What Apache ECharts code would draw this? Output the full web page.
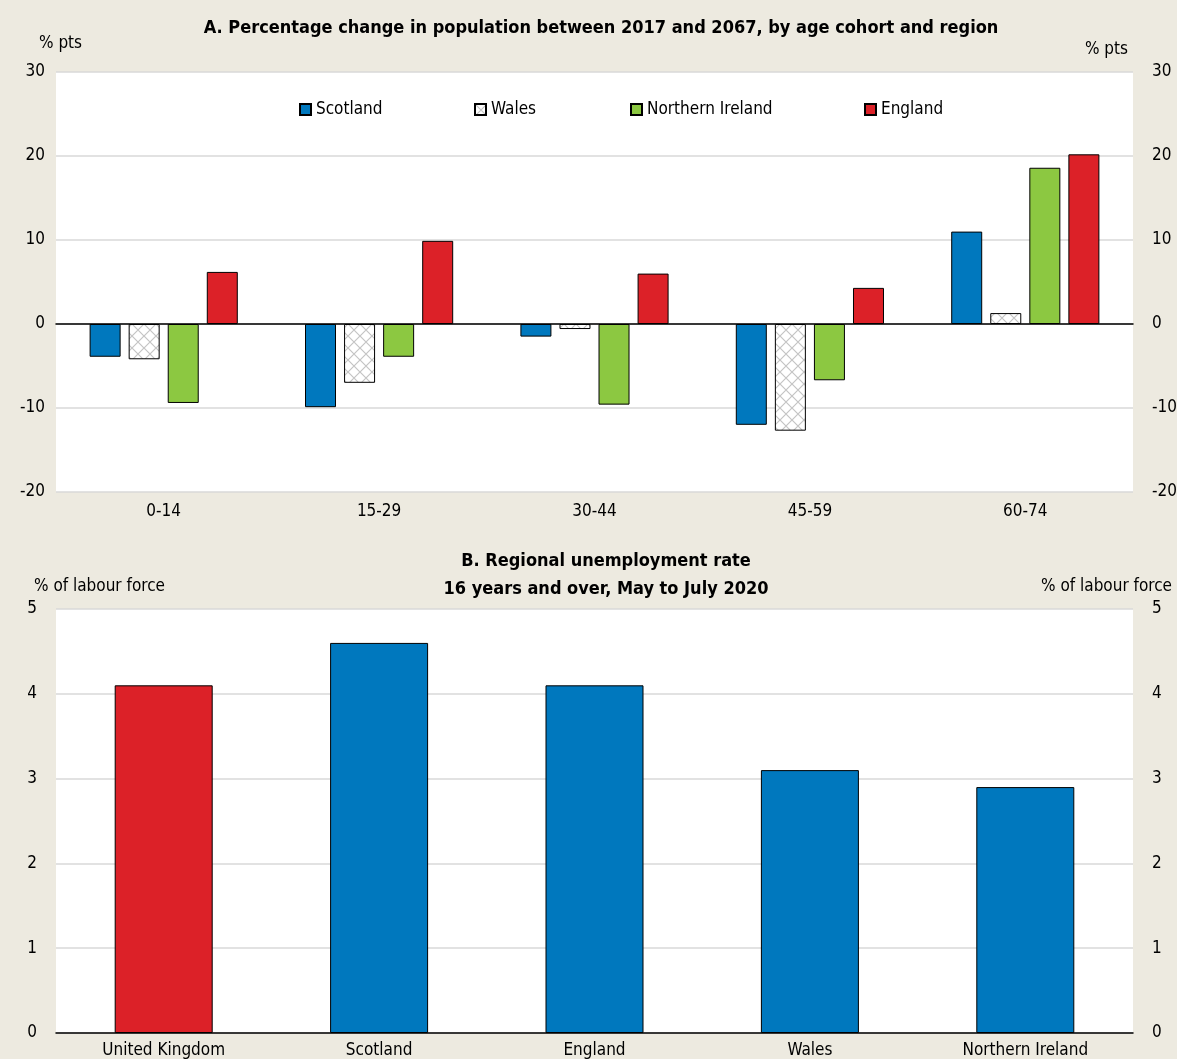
<!DOCTYPE html>
<html>
<head>
<meta charset="utf-8">
<script src="https://cdn.jsdelivr.net/npm/echarts@6/dist/echarts.min.js"></script>
<style>
  html, body { margin: 0; padding: 0; background: #edeae0; }
  #chart { width: 1177px; height: 1059px; }
</style>
</head>
<body>
<div id="chart"></div>
<script>
// panel A data
var ageCohorts = ["0-14", "15-29", "30-44", "45-59", "60-74"];
var scotland = [-3.9, -9.9, -1.5, -12.0, 11.0];
var wales = [-4.2, -7.0, -0.6, -12.7, 1.3];
var northernIreland = [-9.4, -3.9, -9.6, -6.7, 18.6];
var england = [6.2, 9.9, 6.0, 4.3, 20.2];

// panel B data
var regions = ["United Kingdom", "Scotland", "England", "Wales", "Northern Ireland"];
var unemployment = [4.1, 4.6, 4.1, 3.1, 2.9];

var FONT = "'Liberation Sans Narrow', 'Arial Narrow', 'DejaVu Sans Condensed', sans-serif";
var BLUE = "#0078be";
var GREEN = "#8cc841";
var RED = "#dc2128";

// crosshatch fill for Wales
function hatch() {
  var c = document.createElement("canvas");
  c.width = 12; c.height = 12;
  var ctx = c.getContext("2d");
  ctx.fillStyle = "#ffffff";
  ctx.fillRect(0, 0, 12, 12);
  ctx.strokeStyle = "#c4c4c4";
  ctx.lineWidth = 1.2;
  ctx.beginPath();
  ctx.moveTo(0, 0); ctx.lineTo(12, 12);
  ctx.moveTo(12, 0); ctx.lineTo(0, 12);
  ctx.stroke();
  return c;
}
var walesFill = { image: hatch(), repeat: "repeat" };

var chart = echarts.init(document.getElementById("chart"));

var labelStyle = { color: "#000", fontFamily: FONT, fontSize: 17 };

function legendItem(name, left) {
  return {
    data: [name],
    left: left,
    top: 96,
    itemWidth: 11,
    itemHeight: 11,
    icon: "rect",
    textStyle: { color: "#000", fontFamily: FONT, fontSize: 17 },
    selectedMode: false
  };
}

function barSeries(name, data, color) {
  return {
    name: name,
    type: "bar",
    xAxisIndex: 0,
    yAxisIndex: 0,
    data: data,
    barWidth: 31,
    barGap: "26%",
    itemStyle: { color: color, borderColor: "#000", borderWidth: 1 }
  };
}

chart.setOption({
  backgroundColor: "#edeae0",
  animation: false,
  title: [
    {
      text: "A. Percentage change in population between 2017 and 2067, by age cohort and region",
      left: 596, top: 14, textAlign: "center",
      textStyle: { fontFamily: FONT, fontSize: 18, fontWeight: "bold", color: "#000" }
    },
    {
      text: "B. Regional unemployment rate\n16 years and over, May to July 2020",
      left: 601, top: 542, textAlign: "center",
      textStyle: { fontFamily: FONT, fontSize: 18, fontWeight: "bold", color: "#000", lineHeight: 28 }
    }
  ],
  legend: [
    legendItem("Scotland", 294),
    legendItem("Wales", 469),
    legendItem("Northern Ireland", 625),
    legendItem("England", 859)
  ],
  grid: [
    { left: 56, right: 44, top: 72, height: 420, backgroundColor: "#fff", show: true, borderWidth: 0, outerBoundsMode: "none" },
    { left: 56, right: 44, top: 609, height: 424, backgroundColor: "#fff", show: true, borderWidth: 0, outerBoundsMode: "none" }
  ],
  xAxis: [
    {
      type: "category", gridIndex: 0, data: ageCohorts,
      axisLine: { onZero: true, lineStyle: { color: "#000", width: 1.5 } },
      axisTick: { show: false },
      axisLabel: Object.assign({ margin: 11 }, labelStyle)
    },
    {
      type: "category", gridIndex: 1, data: regions,
      axisLine: { lineStyle: { color: "#000", width: 1.5 } },
      axisTick: { show: false },
      axisLabel: Object.assign({ margin: 9 }, labelStyle)
    }
  ],
  yAxis: [
    {
      type: "value", gridIndex: 0, min: -20, max: 30, interval: 10,
      name: "% pts", nameLocation: "end", nameGap: 20,
      nameTextStyle: { fontFamily: FONT, fontSize: 17, color: "#000", align: "left", padding: [0, 0, 0, -17] },
      axisLine: { show: false }, axisTick: { show: false },
      axisLabel: Object.assign({ margin: 11 }, labelStyle),
      splitLine: { lineStyle: { color: "#d9d9d9", width: 1.5 } }
    },
    {
      type: "value", gridIndex: 0, min: -20, max: 30, interval: 10, position: "right",
      name: "% pts", nameLocation: "end", nameGap: 14,
      nameTextStyle: { fontFamily: FONT, fontSize: 17, color: "#000", align: "right", padding: [0, 5, 0, 0] },
      axisLine: { show: false }, axisTick: { show: false },
      axisLabel: Object.assign({ margin: 19 }, labelStyle),
      splitLine: { show: false }
    },
    {
      type: "value", gridIndex: 1, min: 0, max: 5, interval: 1,
      name: "% of labour force", nameLocation: "end", nameGap: 14,
      nameTextStyle: { fontFamily: FONT, fontSize: 17, color: "#000", align: "left", padding: [0, 0, 0, -22] },
      axisLine: { show: false }, axisTick: { show: false },
      axisLabel: Object.assign({ margin: 19 }, labelStyle),
      splitLine: { lineStyle: { color: "#d9d9d9", width: 1.5 } }
    },
    {
      type: "value", gridIndex: 1, min: 0, max: 5, interval: 1, position: "right",
      name: "% of labour force", nameLocation: "end", nameGap: 14,
      nameTextStyle: { fontFamily: FONT, fontSize: 17, color: "#000", align: "right", padding: [0, -39, 0, 0] },
      axisLine: { show: false }, axisTick: { show: false },
      axisLabel: Object.assign({ margin: 19 }, labelStyle),
      splitLine: { show: false }
    }
  ],
  series: [
    barSeries("Scotland", scotland, BLUE),
    barSeries("Wales", wales, walesFill),
    barSeries("Northern Ireland", northernIreland, GREEN),
    barSeries("England", england, RED),
    {
      name: "Unemployment",
      type: "bar",
      xAxisIndex: 1,
      yAxisIndex: 2,
      barWidth: 98,
      data: unemployment.map(function (v, i) {
        return { value: v, itemStyle: { color: i === 0 ? RED : BLUE } };
      }),
      itemStyle: { borderColor: "#000", borderWidth: 1 }
    }
  ]
});
</script>
</body>
</html>
